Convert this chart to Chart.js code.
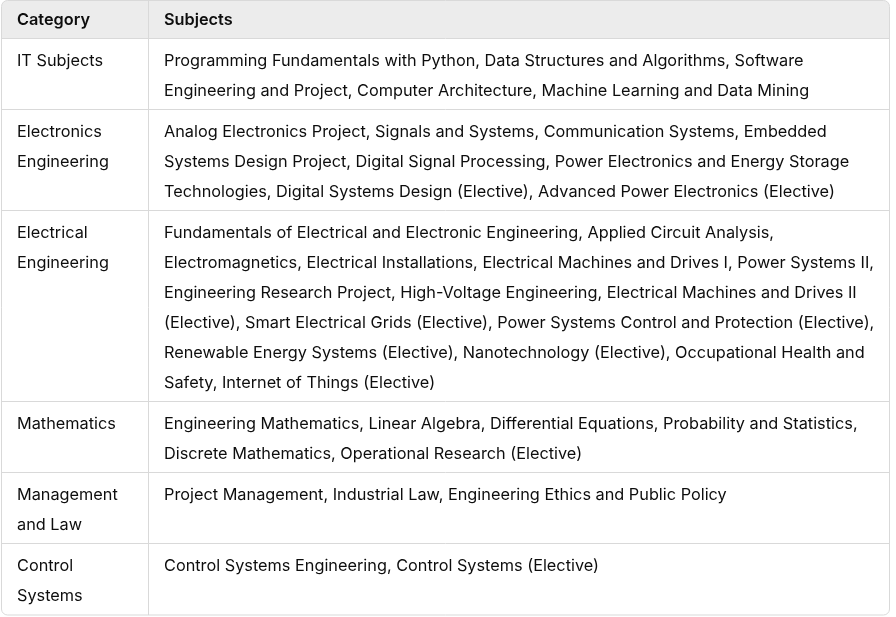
<!DOCTYPE html>
<html>
<head>
<meta charset="utf-8">
<script src="https://cdn.jsdelivr.net/npm/chart.js@4/dist/chart.umd.min.js"></script>
<style>
  html, body { margin: 0; padding: 0; background: #ffffff; }
  #wrap { width: 896px; height: 617px; }
</style>
</head>
<body>
<div id="wrap"><canvas id="myChart" width="896" height="617"></canvas></div>
<script>
// table data
var headers = ['Category', 'Subjects'];
var categories = [
    'IT Subjects',
    'Electronics Engineering',
    'Electrical Engineering',
    'Mathematics',
    'Management and Law',
    'Control Systems'
];
var subjects = [
    'Programming Fundamentals with Python, Data Structures and Algorithms, Software Engineering and Project, Computer Architecture, Machine Learning and Data Mining',
    'Analog Electronics Project, Signals and Systems, Communication Systems, Embedded Systems Design Project, Digital Signal Processing, Power Electronics and Energy Storage Technologies, Digital Systems Design (Elective), Advanced Power Electronics (Elective)',
    'Fundamentals of Electrical and Electronic Engineering, Applied Circuit Analysis, Electromagnetics, Electrical Installations, Electrical Machines and Drives I, Power Systems II, Engineering Research Project, High-Voltage Engineering, Electrical Machines and Drives II (Elective), Smart Electrical Grids (Elective), Power Systems Control and Protection (Elective), Renewable Energy Systems (Elective), Nanotechnology (Elective), Occupational Health and Safety, Internet of Things (Elective)',
    'Engineering Mathematics, Linear Algebra, Differential Equations, Probability and Statistics, Discrete Mathematics, Operational Research (Elective)',
    'Project Management, Industrial Law, Engineering Ethics and Public Policy',
    'Control Systems Engineering, Control Systems (Elective)'
];

var FONT = '16.3px Inter, "Noto Sans", sans-serif';
var FONT_BOLD = '600 16.3px Inter, "Noto Sans", sans-serif';
var LINE = 30;       // line height
var PAD_X = 16;
var PAD_Y = 6;
var TEXT_OFF = 8;    // first text line offset inside a row
var HEAD_H = 38;
var COL_SPLIT = 148; // divider between columns (x units)
var LEFT = 1.5, RIGHT = 889.5;

function wrap(ctx, text, maxW) {
    var words = text.split(' ');
    var lines = [];
    var cur = '';
    words.forEach(function (w) {
        var test = cur ? cur + ' ' + w : w;
        if (ctx.measureText(test).width > maxW && cur) {
            lines.push(cur);
            cur = w;
        } else {
            cur = test;
        }
    });
    if (cur) lines.push(cur);
    return lines;
}

function roundRectPath(ctx, x, y, w, h, r) {
    ctx.beginPath();
    ctx.moveTo(x + r, y);
    ctx.lineTo(x + w - r, y);
    ctx.arcTo(x + w, y, x + w, y + r, r);
    ctx.lineTo(x + w, y + h - r);
    ctx.arcTo(x + w, y + h, x + w - r, y + h, r);
    ctx.lineTo(x + r, y + h);
    ctx.arcTo(x, y + h, x, y + h - r, r);
    ctx.lineTo(x, y + r);
    ctx.arcTo(x, y, x + r, y, r);
    ctx.closePath();
}

var tablePlugin = {
    id: 'tablePlugin',
    afterDraw: function (chart) {
        var ctx = chart.ctx;
        var xs = chart.scales.x;
        var ys = chart.scales.y;
        var px = function (v) { return xs.getPixelForValue(v); };
        var py = function (v) { return ys.getPixelForValue(v); };

        ctx.save();
        ctx.font = FONT;
        var leftW = COL_SPLIT - 2 * PAD_X;
        var rightW = 722;
        var rows = categories.map(function (c, i) {
            var a = wrap(ctx, c, leftW);
            var b = wrap(ctx, subjects[i], rightW);
            return { cat: a, sub: b, n: Math.max(a.length, b.length) };
        });

        // row boundaries
        var tops = [];
        var y = HEAD_H;
        rows.forEach(function (r) {
            tops.push(y);
            y += r.n * LINE + 2 * PAD_Y - 1;
        });
        var bottom = y + 1;

        // outer box + header fill
        roundRectPath(ctx, px(LEFT), py(0.5), px(RIGHT) - px(LEFT), py(bottom) - py(0.5), 6);
        ctx.save();
        ctx.clip();
        ctx.fillStyle = '#ececec';
        ctx.fillRect(px(LEFT), py(0), px(RIGHT) - px(LEFT), py(HEAD_H) - py(0));
        ctx.restore();
        ctx.strokeStyle = '#d9d9d9';
        ctx.lineWidth = 1;
        roundRectPath(ctx, px(LEFT), py(0.5), px(RIGHT) - px(LEFT), py(bottom) - py(0.5), 6);
        ctx.stroke();

        // grid lines
        ctx.beginPath();
        ctx.moveTo(px(COL_SPLIT + 0.5), py(0));
        ctx.lineTo(px(COL_SPLIT + 0.5), py(bottom));
        tops.forEach(function (t) {
            ctx.moveTo(px(LEFT), py(t + 0.5));
            ctx.lineTo(px(RIGHT), py(t + 0.5));
        });
        ctx.stroke();

        // header text
        ctx.fillStyle = '#0d0d0d';
        ctx.textBaseline = 'middle';
        ctx.font = FONT_BOLD;
        ctx.fillText(headers[0], px(LEFT + PAD_X - 0.5), py(HEAD_H / 2 + 1));
        ctx.fillText(headers[1], px(COL_SPLIT + PAD_X), py(HEAD_H / 2 + 1));

        // body text
        ctx.font = FONT;
        rows.forEach(function (r, i) {
            var base = tops[i] + TEXT_OFF + LINE / 2;
            r.cat.forEach(function (s, k) {
                ctx.fillText(s, px(LEFT + PAD_X - 0.5), py(base + k * LINE));
            });
            r.sub.forEach(function (s, k) {
                ctx.fillText(s, px(COL_SPLIT + PAD_X), py(base + k * LINE));
            });
        });
        ctx.restore();
    }
};

var chart = new Chart(document.getElementById('myChart').getContext('2d'), {
    type: 'scatter',
    data: { datasets: [{ data: [] }] },
    options: {
        responsive: false,
        animation: false,
        events: [],
        layout: { padding: 0 },
        plugins: { legend: { display: false }, tooltip: { enabled: false } },
        scales: {
            x: { type: 'linear', min: 0, max: 896, display: false },
            y: { type: 'linear', min: 0, max: 617, reverse: true, display: false }
        }
    },
    plugins: [tablePlugin]
});
</script>
</body>
</html>
